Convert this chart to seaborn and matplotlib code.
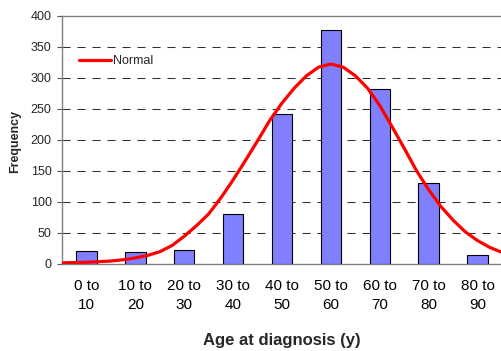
import matplotlib
matplotlib.use("Agg")
import matplotlib.pyplot as plt
import seaborn as sns
import numpy as np
import pandas as pd

categories = ["0 to\n10", "10 to\n20", "20 to\n30", "30 to\n40", "40 to\n50",
              "50 to\n60", "60 to\n70", "70 to\n80", "80 to\n90"]
frequency = [20, 18, 22, 80, 241, 377, 282, 130, 14]

curve_age = [0, 2.5, 5, 7.5, 10, 12.5, 15, 17.5, 20, 22.5, 25, 27.5, 30, 32.5, 35,
             37.5, 40, 42.5, 45, 47.5, 50, 52.5, 55, 57.5, 60, 62.5, 65, 67.5, 70,
             72.5, 75, 77.5, 80, 82.5, 85, 87.5, 90]
curve_val = [1, 1.5, 2, 3, 4, 6, 9, 13, 19, 29, 44, 61, 80, 106, 135,
             166, 198, 231, 259, 283, 303, 317, 322, 317, 303, 283, 255, 221, 186,
             150, 119, 92, 70, 51, 37, 26, 18]

yticks = [0, 50, 100, 150, 200, 250, 300, 350, 400]

sns.set_style("white")
plt.rcParams['font.family'] = ['Liberation Sans', 'DejaVu Sans']
plt.rcParams['lines.scale_dashes'] = False

fig = plt.figure(figsize=(5.02, 3.51), dpi=100)
ax = fig.add_axes([62/502, 1-263.5/351, 440/502, (263.5-15.7)/351])

df = pd.DataFrame({"cat": categories, "freq": frequency})
sns.barplot(data=df, x="cat", y="freq", color="#8080FF", saturation=1, width=0.42,
            edgecolor="black", linewidth=0.8, ax=ax, zorder=3)

cx = [a/10 - 0.5 for a in curve_age]
sns.lineplot(x=cx, y=curve_val, sort=False, color="#FF0000", linewidth=2.3,
             label="Normal", ax=ax, zorder=4, estimator=None,
             solid_joinstyle='round', solid_capstyle='round')

ax.set_xlim(-0.5, 8.5)
ax.set_ylim(0, 400)
ax.set_yticks(yticks)
ax.set_yticklabels([str(v) for v in yticks], fontsize=9)
ax.set_xticks(range(len(categories)))
ax.set_xticklabels(categories, fontsize=11, linespacing=1.45)
ax.set_xticks(np.arange(-0.5, 9.0, 1.0), minor=True)
ax.tick_params(axis='x', which='major', length=0, pad=11, colors='black')
ax.tick_params(axis='x', which='minor', length=4, width=0.8, direction='out', color='#555555')
ax.tick_params(axis='y', which='major', length=3.5, width=0.8, direction='out', pad=4,
               color='#555555', left=True)
ax.set_xlabel("")
ax.set_ylabel("")

for v in yticks[1:-1]:
    ax.axhline(v, color='#303030', linewidth=0.75, linestyle=(0, (5.8, 5.0)), zorder=1)

ax.spines['right'].set_visible(False)
for s in ['top', 'left', 'bottom']:
    ax.spines[s].set_color('#808080')
    ax.spines[s].set_linewidth(1.0)

ax.legend(loc='center left', bbox_to_anchor=((79-62)/440, (263.5-61)/247.8),
          frameon=False, fontsize=9, handlelength=2.6, handletextpad=0.15,
          borderpad=0, borderaxespad=0)

fig.text(282/502, 1-345/351, "Age at diagnosis (y)", fontsize=12, fontweight='bold',
         ha='center', va='baseline')
fig.text(15/502, 1-141/351, "Frequency", fontsize=9, fontweight='bold',
         ha='center', va='center', rotation=90)

fig.savefig("out.png", dpi=100)
